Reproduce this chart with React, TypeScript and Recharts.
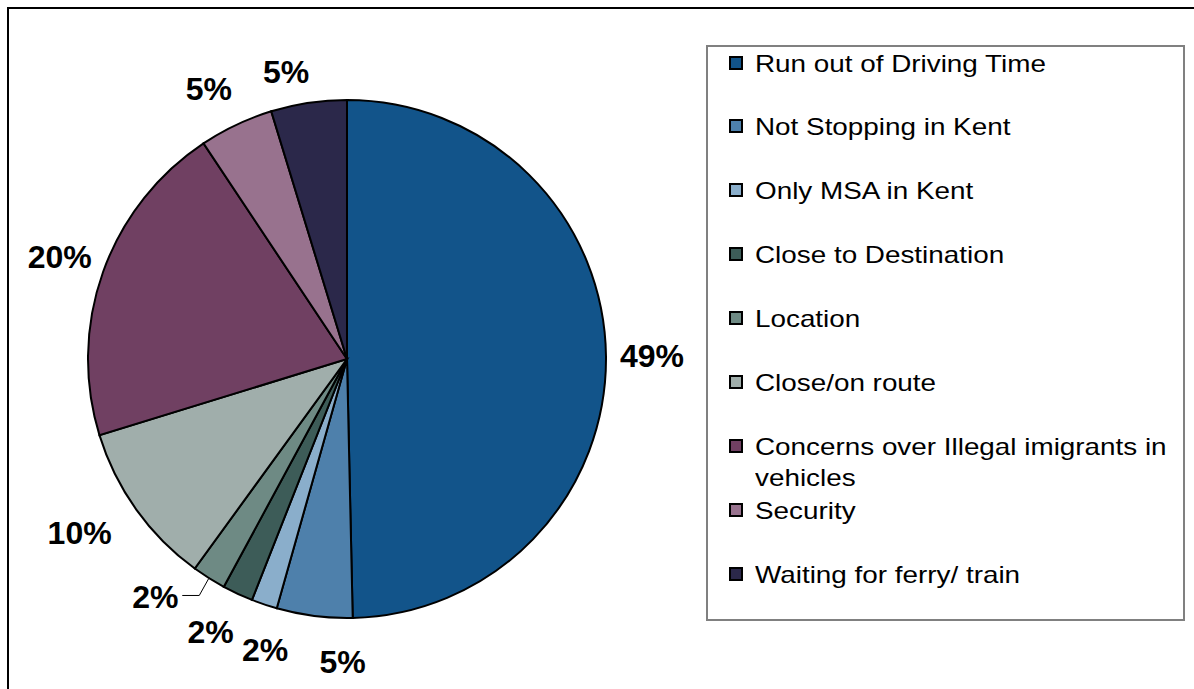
import React from 'react';
import { PieChart, Pie, Cell, Legend } from 'recharts';

const categories = [
  'Run out of Driving Time',
  'Not Stopping in Kent',
  'Only MSA in Kent',
  'Close to Destination',
  'Location',
  'Close/on route',
  'Concerns over Illegal imigrants in vehicles',
  'Security',
  'Waiting for ferry/ train',
];
const shares = [49.4, 4.7, 1.6, 1.9, 2.1, 10.2, 20.3, 4.6, 4.7];
const colors = [
  '#12548A',
  '#4E80AB',
  '#8AAECB',
  '#3D5C58',
  '#6E8A84',
  '#A0AEAB',
  '#704062',
  '#98728E',
  '#2B284A',
];
const leaderCategory = 'Location';

// label placement tweaks (degrees of rotation, extra radius) — styling only
const labelTweak: Record<string, { da: number; dr: number }> = {
  'Not Stopping in Kent': { da: 6.4, dr: -2 },
  'Only MSA in Kent': { da: 2.9, dr: -3 },
  'Close to Destination': { da: -1.6, dr: 0 },
  'Location': { da: -6.6, dr: 1 },
  'Close/on route': { da: -2.5, dr: 14 },
  'Waiting for ferry/ train': { da: 3.5, dr: -12 },
  'Security': { da: 1.8, dr: -2 },
};

const data = categories.map((name, i) => ({ name, value: shares[i] }));

const RAD = Math.PI / 180;
const FONT = '"Liberation Sans", Arial, Helvetica, sans-serif';

const renderLabel = (p: any) => {
  const { cx, cy, midAngle, outerRadius, value, name } = p;
  const tw = labelTweak[name] || { da: 0, dr: 0 };
  const leader = name === leaderCategory;
  const ang = midAngle + tw.da;
  const r = outerRadius + 46 + tw.dr;
  const x = cx + r * Math.cos(-ang * RAD);
  const y = cy + r * Math.sin(-ang * RAD);
  const txt = `${Math.round(value)}%`;
  let line = null;
  if (leader) {
    const sx = cx + (outerRadius + 1) * Math.cos(-midAngle * RAD);
    const sy = cy + (outerRadius + 1) * Math.sin(-midAngle * RAD);
    const ey = y - 2;
    const ex = x + 27;
    const mx = ex + 17;
    line = (
      <polyline
        points={`${sx},${sy} ${mx},${ey} ${ex},${ey}`}
        fill="none"
        stroke="#000"
        strokeWidth={1}
      />
    );
  }
  return (
    <g>
      {line}
      <text
        x={x}
        y={y}
        textAnchor="middle"
        dominantBaseline="central"
        fontFamily={FONT}
        fontWeight="bold"
        fontSize={32}
        fill="#000"
      >
        {txt}
      </text>
    </g>
  );
};

const ROW_STEP = 63.875;

const renderLegend = () => (
  <div
    style={{
      position: 'relative',
      width: 479,
      height: 576,
      border: '2px solid #808080',
      boxSizing: 'border-box',
      background: '#fff',
      fontFamily: FONT,
    }}
  >
    {categories.map((name, i) => (
      <div
        key={name}
        style={{ position: 'absolute', left: 0, top: 0.5 + i * ROW_STEP, width: '100%' }}
      >
        <div
          style={{
            position: 'absolute',
            left: 21,
            top: 8,
            width: 14,
            height: 14,
            boxSizing: 'border-box',
            border: '2px solid #000',
            background: colors[i],
          }}
        />
        <div
          style={{
            position: 'absolute',
            left: 47,
            top: 0,
            width: 366,
            fontSize: 24,
            lineHeight: '31px',
            color: '#000',
            transform: 'scaleX(1.16)',
            transformOrigin: 'left top',
            whiteSpace: 'normal',
          }}
        >
          {name}
        </div>
      </div>
    ))}
  </div>
);

export default function App() {
  return (
    <div
      style={{
        position: 'fixed',
        left: 0,
        top: 0,
        width: 1194,
        height: 689,
        overflow: 'hidden',
        fontFamily: FONT,
        background: '#fff',
      }}
    >
      <div
        style={{
          position: 'absolute',
          left: 7,
          top: 7,
          width: 1300,
          height: 800,
          borderLeft: '2px solid #000',
          borderTop: '2px solid #000',
        }}
      />
      <div style={{ position: 'absolute', left: 8, top: 8 }}>
        <PieChart
          width={1178}
          height={673}
          margin={{ top: 0, right: 0, bottom: 0, left: 0 }}
          accessibilityLayer={false}
          style={{ outline: 'none' }}
        >
          <Pie
            data={data}
            dataKey="value"
            nameKey="name"
            cx={339}
            cy={351}
            outerRadius={259}
            startAngle={90}
            endAngle={-270}
            stroke="#000"
            strokeWidth={2}
            label={renderLabel}
            labelLine={false}
            isAnimationActive={false}
          >
            {data.map((d, i) => (
              <Cell key={d.name} fill={colors[i]} />
            ))}
          </Pie>
          <Legend
            content={renderLegend}
            layout="vertical"
            verticalAlign="top"
            align="right"
            wrapperStyle={{ left: 698, top: 37, width: 479, height: 576 }}
          />
        </PieChart>
      </div>
    </div>
  );
}
